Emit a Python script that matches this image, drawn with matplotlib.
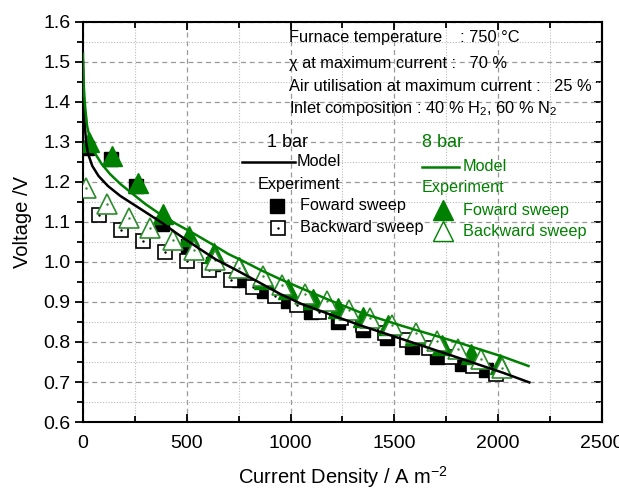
import matplotlib
matplotlib.use("Agg")
import matplotlib.pyplot as plt
from matplotlib.ticker import MultipleLocator, FormatStrFormatter, NullFormatter

plt.rcParams['font.family'] = ['Liberation Sans', 'DejaVu Sans']
plt.rcParams['mathtext.fontset'] = 'custom'
plt.rcParams['mathtext.rm'] = 'Liberation Sans'
plt.rcParams['mathtext.it'] = 'Liberation Sans:italic'

GREEN = '#008000'
LGREEN = '#2e8b2e'

# Model curves
model1_x = [0, 3, 8, 15, 25, 45, 75, 120, 180, 240, 300, 383, 450, 495, 570, 641, 738, 859, 950,
            1053, 1200, 1345, 1539, 1800, 2024, 2150]
model1_v = [1.50, 1.42, 1.35, 1.30, 1.27, 1.24, 1.215, 1.19, 1.165, 1.145, 1.125, 1.097, 1.072, 1.056,
            1.03, 1.006, 0.98, 0.946, 0.92, 0.895, 0.867, 0.840, 0.807, 0.762, 0.723, 0.699]
model8_x = [0, 2, 5, 10, 20, 37, 60, 90, 130, 180, 240, 300, 370, 450, 534, 620, 700, 780, 859, 950,
            1053, 1200, 1345, 1539, 1800, 2024, 2146]
model8_v = [1.52, 1.47, 1.43, 1.39, 1.34, 1.30, 1.27, 1.245, 1.22, 1.195, 1.17, 1.145, 1.12, 1.095,
            1.071, 1.045, 1.02, 1.0, 0.979, 0.957, 0.934, 0.902, 0.872, 0.840, 0.800, 0.763, 0.740]

# 1 bar experiment
fwd1_x = [20, 136, 255, 380, 505, 625, 750, 870, 990, 1100, 1230, 1350, 1465, 1585, 1705, 1825, 1942]
fwd1_v = [1.285, 1.257, 1.19, 1.094, 1.040, 0.995, 0.956, 0.928, 0.902, 0.876, 0.850, 0.829, 0.809,
          0.787, 0.763, 0.745, 0.729]
bwd1_x = [78, 184, 290, 396, 502, 608, 714, 820, 926, 1032, 1138, 1244, 1350, 1456, 1562, 1668, 1774,
          1880, 1990]
bwd1_v = [1.117, 1.079, 1.052, 1.024, 1.002, 0.979, 0.956, 0.937, 0.914, 0.893, 0.875, 0.859, 0.842,
          0.822, 0.804, 0.784, 0.762, 0.741, 0.719]

# 8 bar experiment
fwd8_x = [30, 140, 267, 385, 510, 630, 750, 870, 990, 1110, 1230, 1350, 1470, 1600, 1730, 1870, 2010]
fwd8_v = [1.300, 1.265, 1.197, 1.119, 1.066, 1.022, 0.988, 0.958, 0.932, 0.908, 0.885, 0.862, 0.842,
          0.818, 0.792, 0.771, 0.746]
bwd8_x = [15, 117, 220, 325, 432, 535, 636, 753, 868, 960, 1068, 1175, 1282, 1384, 1490, 1602, 1704,
          1806, 1917, 2020]
bwd8_v = [1.186, 1.146, 1.111, 1.084, 1.054, 1.029, 1.006, 0.986, 0.964, 0.943, 0.921, 0.902, 0.881,
          0.861, 0.842, 0.822, 0.802, 0.782, 0.757, 0.734]

x_ticks = [0, 500, 1000, 1500, 2000, 2500]
y_ticks = [0.6, 0.7, 0.8, 0.9, 1.0, 1.1, 1.2, 1.3, 1.4, 1.5, 1.6]

fig = plt.figure(figsize=(6.19, 4.94), dpi=100)
ax = fig.add_axes([0.134, 0.1457, 0.8385, 0.81])

ax.set_xlim(0, 2500)
ax.set_ylim(0.6, 1.6)
ax.set_xticks(x_ticks)
ax.set_yticks(y_ticks)
ax.xaxis.set_minor_locator(MultipleLocator(250))
ax.yaxis.set_minor_locator(MultipleLocator(0.05))
ax.yaxis.set_major_formatter(FormatStrFormatter('%.1f'))
ax.grid(True, which='major', color='#999999', linestyle=(0, (4, 3)), linewidth=0.9)
ax.grid(True, which='minor', color='#bbbbbb', linestyle=(0, (1, 1.5)), linewidth=0.8)
ax.set_axisbelow(True)
for s in ax.spines.values():
    s.set_linewidth(1.5)

ax.tick_params(axis='y', which='both', direction='out', left=True, right=False, labelsize=14, width=1.3, pad=3)
ax.tick_params(axis='x', which='both', direction='in', top=True, bottom=True, labelsize=14, width=1.3, pad=9)
ax.tick_params(which='major', length=6)
ax.tick_params(which='minor', length=4)

sec = ax.secondary_yaxis('right')
sec.set_yticks(y_ticks)
sec.yaxis.set_minor_locator(MultipleLocator(0.05))
sec.yaxis.set_major_formatter(NullFormatter())
sec.tick_params(which='both', direction='in', width=1.3)
sec.tick_params(which='major', length=6)
sec.tick_params(which='minor', length=4)
sec.spines['right'].set_linewidth(1.5)

ax.set_xlabel('Current Density / A m$^{-2}$', fontsize=14.5, labelpad=9)
ax.set_ylabel('Voltage /V', fontsize=14.5, labelpad=8)

ms_sq = 10.5
ms_tr = 14
ax.plot(fwd1_x, fwd1_v, 's', color='black', ms=ms_sq, zorder=3)
ax.plot(bwd1_x, bwd1_v, 's', mfc='white', mec='black', mew=1.2, ms=ms_sq, zorder=4)
ax.plot(bwd1_x, bwd1_v, '.', color='black', ms=1.5, zorder=4)
ax.plot(fwd8_x, fwd8_v, '^', color=GREEN, ms=ms_tr, zorder=5)
ax.plot(bwd8_x, bwd8_v, '^', mfc='white', mec=LGREEN, mew=1.2, ms=ms_tr, zorder=6)
ax.plot(bwd8_x, bwd8_v, '.', color=LGREEN, ms=1.5, zorder=6)

ax.plot(model1_x, model1_v, '-', color='black', lw=1.8, zorder=7)
ax.plot(model8_x, model8_v, '-', color=GREEN, lw=1.8, zorder=7)


def fx(px):
    return (px - 83) / 519.0


def fy(py):
    return (422 - py) / 400.0


tk = dict(transform=ax.transAxes, fontsize=11.8, va='center', ha='left')
ax.text(fx(289), fy(38), 'Furnace temperature    : 750 °C', **tk)
ax.text(fx(289), fy(64), 'χ at maximum current :   70 %', **tk)
ax.text(fx(289), fy(87), 'Air utilisation at maximum current :   25 %', **tk)
ax.text(fx(289), fy(109), 'Inlet composition : 40 % H$_2$, 60 % N$_2$', **tk)

lk = dict(transform=ax.transAxes, fontsize=11.7, va='center', ha='left')
ax.text(fx(267), fy(143), '1 bar', fontsize=13, transform=ax.transAxes, va='center', ha='left')
ax.plot([fx(242), fx(295)], [fy(162), fy(162)], '-', color='black', lw=1.8, transform=ax.transAxes)
ax.text(fx(297), fy(162), 'Model', **lk)
ax.text(fx(258), fy(185), 'Experiment', **lk)
ax.plot([fx(277)], [fy(206)], 's', color='black', ms=ms_sq, transform=ax.transAxes)
ax.text(fx(300), fy(206), 'Foward sweep', **lk)
ax.plot([fx(278)], [fy(228)], 's', mfc='white', mec='black', mew=1.2, ms=ms_sq, transform=ax.transAxes)
ax.plot([fx(278)], [fy(228)], '.', color='black', ms=1.5, transform=ax.transAxes)
ax.text(fx(300), fy(228), 'Backward sweep', **lk)

gk = dict(lk, color=GREEN)
ax.text(fx(422), fy(143), '8 bar', fontsize=13, color=GREEN, transform=ax.transAxes, va='center', ha='left')
ax.plot([fx(422), fx(459)], [fy(167), fy(167)], '-', color=GREEN, lw=1.8, transform=ax.transAxes)
ax.text(fx(463), fy(167), 'Model', **gk)
ax.text(fx(422), fy(188), 'Experiment', **gk)
ax.plot([fx(443)], [fy(210)], '^', color=GREEN, ms=ms_tr, transform=ax.transAxes)
ax.text(fx(463), fy(211), 'Foward sweep', **gk)
ax.plot([fx(443)], [fy(231)], '^', mfc='white', mec=GREEN, mew=1.0, ms=ms_tr, transform=ax.transAxes)
ax.text(fx(463), fy(232), 'Backward sweep', **gk)

fig.savefig('out.png', dpi=100)
